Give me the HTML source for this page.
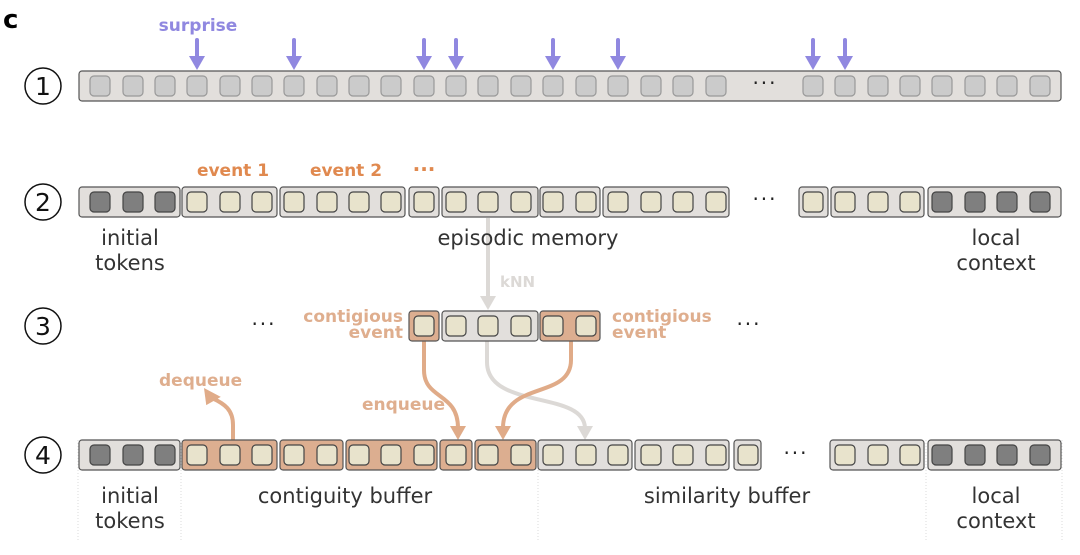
<!DOCTYPE html>
<html><head><meta charset="utf-8"><style>
html,body{margin:0;padding:0;background:#fff;width:1080px;height:555px;overflow:hidden}
svg{display:block;font-family:"DejaVu Sans","Liberation Sans",sans-serif}
</style></head><body>
<svg id="s" width="1080" height="555" viewBox="0 0 1080 555" xmlns="http://www.w3.org/2000/svg">
<g id="g"></g>
<text x="3" y="28" font-size="26" font-weight="bold" fill="#000">c</text>
<text x="198" y="31" font-size="17" font-weight="bold" fill="#9088e0" text-anchor="middle">surprise</text>
<g font-size="17" font-weight="bold" fill="#e0894f" text-anchor="middle">
<text x="233" y="176">event 1</text><text x="346" y="176">event 2</text><text x="424" y="176" font-size="20">···</text></g>
<g font-size="21" fill="#333" text-anchor="middle">
<text x="130" y="245">initial</text><text x="130" y="270">tokens</text>
<text x="528" y="245">episodic memory</text>
<text x="996" y="245">local</text><text x="996" y="270">context</text>
<text x="130" y="503">initial</text><text x="130" y="528">tokens</text>
<text x="345" y="503">contiguity buffer</text>
<text x="727" y="503">similarity buffer</text>
<text x="996" y="503">local</text><text x="996" y="528">context</text>
</g>
<g font-size="20" fill="#222" text-anchor="middle" letter-spacing="2">
<text x="765" y="90">···</text>
<text x="765" y="206">···</text>
<text x="264" y="331">···</text>
<text x="749" y="331">···</text>
<text x="796" y="460">···</text>
</g>
<g font-size="17" font-weight="bold" fill="#dfae8e">
<text x="403" y="322" text-anchor="end">contigious</text><text x="403" y="338" text-anchor="end">event</text>
<text x="612" y="322">contigious</text><text x="612" y="338">event</text>
<text x="159" y="386">dequeue</text><text x="362" y="410">enqueue</text>
</g>
<text x="500" y="287" font-size="15" font-weight="bold" fill="#dcd9d6">kNN</text>
</svg>
<script>
const g=document.getElementById('g');const NS='http://www.w3.org/2000/svg';
function el(t,a){const e=document.createElementNS(NS,t);for(const k in a)e.setAttribute(k,a[k]);g.appendChild(e);return e;}
function grp(x1,x2,y,fill){el('rect',{x:x1,y:y,width:x2-x1,height:30,rx:3,fill:fill,stroke:'#555','stroke-width':1.2});}
function tok(cx,y,type){const c={l:['#cbcbcb','#999'],c:['#e8e3cc','#444'],d:['#7f7f7f','#444']}[type];
el('rect',{x:cx-10,y:y+5,width:20,height:20,rx:4,fill:c[0],stroke:c[1],'stroke-width':1.2});}
[78,181,538,926,1062].forEach(x=>el('line',{x1:x,y1:440,x2:x,y2:540,stroke:'#ccc','stroke-width':0.7,'stroke-dasharray':'1,2'}));
[[86,'1'],[202,'2'],[326,'3'],[455,'4']].forEach(([y,n])=>{el('circle',{cx:43,cy:y,r:18,fill:'#fff',stroke:'#111','stroke-width':1.5});
const t=el('text',{x:43,y:y+9,'font-size':25,'text-anchor':'middle',fill:'#111'});t.textContent=n;});
grp(79,1061,71,'#e2dfdc');
const c1=[100,133,165,197,230,262,294,327,359,391,424,456,488,521,553,586,618,651,683,716,813,845,878,910,942,975,1007,1040];
c1.forEach(c=>tok(c,71,'l'));
[197,294,424,456,553,618,813,845].forEach(x=>{el('line',{x1:x,y1:40,x2:x,y2:60,stroke:'#9088e0','stroke-width':4,'stroke-linecap':'round'});
el('path',{d:`M${x-8} 56 L${x+8} 56 L${x} 70 Z`,fill:'#9088e0'});});
const Y2=187;
[[79,180,[100,133,165],'d'],[182,277,[197,230,262],'c'],[280,405,[294,327,359,391],'c'],[409,439,[424],'c'],[442,538,[456,488,521],'c'],[540,600,[553,586],'c'],[603,729,[618,651,683,716],'c'],[799,828,[813],'c'],[831,924,[845,878,910],'c'],[928,1061,[942,975,1007,1040],'d']]
.forEach(([a,b,ts,t])=>{grp(a,b,Y2,'#e2dfdc');ts.forEach(c=>tok(c,Y2,t));});
function arr(d,col,hx,hy){el('path',{d:d,fill:'none',stroke:col,'stroke-width':4});
el('path',{d:`M${hx-8} ${hy-14} L${hx+8} ${hy-14} L${hx} ${hy} Z`,fill:col});}
arr('M488 218 L488 298','#dcd9d6',488,310);
arr('M487 340 L487 362 C487 410 584 390 585 428','#dcd9d6',585,440);
arr('M424 340 L424 370 C424 400 458 392 458 428','#e0ab88',458,440);
arr('M571 340 L571 360 C571 400 503 380 503 428','#e0ab88',503,440);
el('path',{d:'M233 440 L233 425 C233 410 225 404 212 398',fill:'none',stroke:'#e0ab88','stroke-width':4});
el('path',{d:'M200 392 L219 392 L210 406 Z',fill:'#e0ab88',transform:'rotate(28 210 398)'});
const Y3=311;
grp(409,439,Y3,'#dcae90');tok(424,Y3,'c');
grp(442,538,Y3,'#e2dfdc');[456,488,521].forEach(c=>tok(c,Y3,'c'));
grp(540,600,Y3,'#dcae90');[553,586].forEach(c=>tok(c,Y3,'c'));
const Y4=440;
[[79,180,[100,133,165],'d','#e2dfdc'],[182,277,[197,230,262],'c','#dcae90'],[280,343,[294,327],'c','#dcae90'],[346,437,[359,391,424],'c','#dcae90'],[440,472,[456],'c','#dcae90'],[475,536,[488,521],'c','#dcae90'],[538,632,[553,586,618],'c','#e2dfdc'],[635,729,[651,683,716],'c','#e2dfdc'],[734,761,[748],'c','#e2dfdc'],[830,924,[845,878,910],'c','#e2dfdc'],[928,1061,[942,975,1007,1040],'d','#e2dfdc']]
.forEach(([a,b,ts,t,f])=>{grp(a,b,Y4,f);ts.forEach(c=>tok(c,Y4,t));});
</script>
</body></html>
